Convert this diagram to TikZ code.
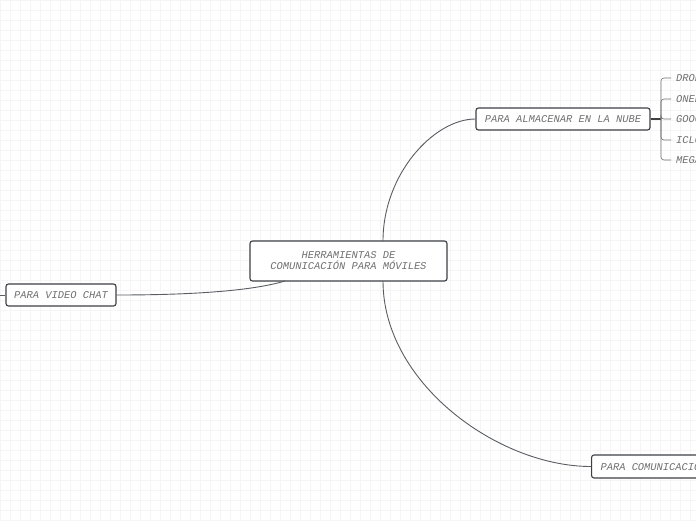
\documentclass[tikz,border=0pt]{standalone}
\usepackage{fontspec}
\setmonofont{Liberation Mono}
\definecolor{ink}{HTML}{3C3F44}
\definecolor{wire}{HTML}{5A5D62}
\definecolor{label}{HTML}{707070}
\definecolor{paper}{HTML}{F5F5F5}

\begin{document}
\begin{tikzpicture}[x=1pt,y=-1pt,
  topic/.style={rectangle,draw=ink,line width=1.1pt,rounded corners=2.5pt,fill=white,text=label,
    font=\fontsize{10.4}{11}\ttfamily\itshape,align=center,inner sep=0pt},
  leaf/.style={anchor=west,inner xsep=5pt,inner ysep=0pt,text=label,font=\fontsize{10.4}{11}\ttfamily\itshape},
  conn/.style={draw=wire,line width=0.9pt},
]
  \useasboundingbox (0,0) rectangle (696,520);
  \fill[white] (0,0) rectangle (696,520);
  \draw[paper,line width=0.5pt,step=10pt] (0,0) grid (696,520);

  \node[topic,minimum width=197pt,minimum height=40pt] (root) at (348.5,261)
    {HERRAMIENTAS DE\\COMUNICACIÓN PARA MÓVILES};
  \node[topic,minimum width=174pt,minimum height=22pt] (nube) at (563,119) {PARA ALMACENAR EN LA NUBE};
  \node[topic,minimum width=110pt,minimum height=22pt] (video) at (61,295) {PARA VIDEO CHAT};
  \node[topic,minimum height=23pt,anchor=west,inner xsep=9pt] (movil) at (591,466.5) {PARA COMUNICACIÓN};

  \coordinate (rtop) at (383,241);
  \coordinate (rbot) at (383,281);
  \coordinate (rlft) at (285,281);
  \draw[conn] (rtop) .. controls (383,174) and (434,119) .. (nube.west);
  \draw[conn] (rbot) .. controls (383,383) and (498,466.5) .. (movil.west);
  \draw[conn] (rlft) .. controls (255,290) and (200,295) .. (video.east);
  \coordinate (vout) at (-10,295);
  \draw[conn] (video.west) -- (vout);

  % cloud services
  \node[leaf] (drop) at (671,78) {DROPBOX};
  \node[leaf] (one) at (671,99) {ONEDRIVE};
  \node[leaf] (goog) at (671,119) {GOOGLE DRIVE};
  \node[leaf] (iclo) at (671,140) {ICLOUD};
  \node[leaf] (mega) at (671,160) {MEGA};
  \coordinate (br) at (661,119);
  \draw[conn,line width=1.1pt,draw=ink] (nube.east) -- (br);
  \foreach \n in {drop,one,goog,iclo,mega}
    \draw[conn,line width=0.6pt,draw=label,rounded corners=3pt] (br) |- (\n.west);
\end{tikzpicture}
\end{document}
